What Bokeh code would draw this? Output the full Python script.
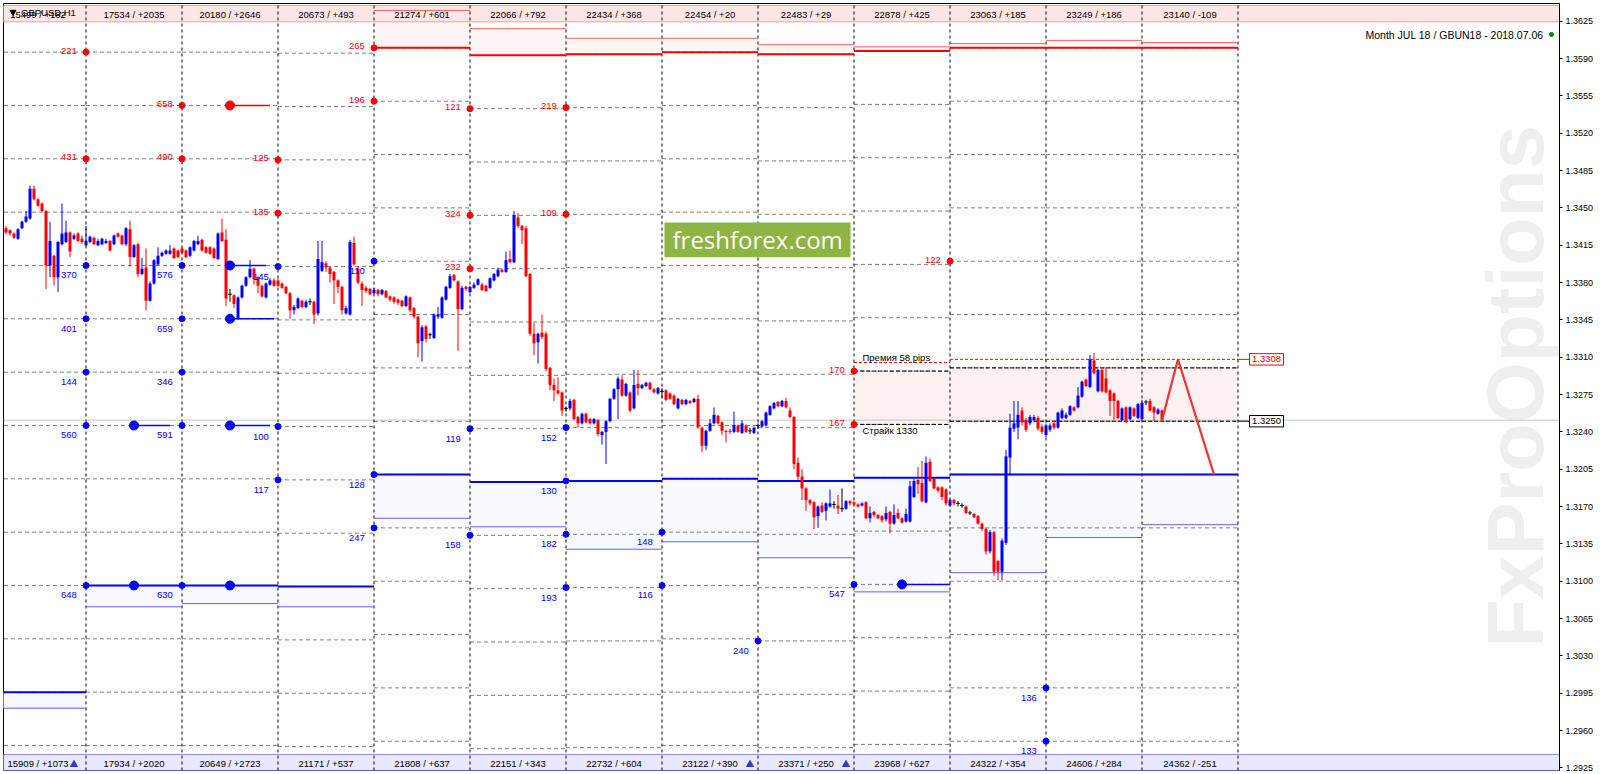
import numpy as np
from bokeh.plotting import figure
from bokeh.models import Range1d, FixedTicker, PrintfTickFormatter, Label, ColumnDataSource
from bokeh.core.properties import value
from bokeh.embed import file_html
from bokeh.resources import INLINE

# ======================= DATA =======================
symbol = "GBPUSD,H1"
contract = "Month JUL 18 / GBUN18 - 2018.07.06"

# hourly candles, prices in pips above 1.3000, first candle at hour -20
first_hour = -20
candle_open = [
    431,429,426,421,431,437,440,468,458,454,447,396,405,385,416,418,427,421,426,421,
    415,418,422,415,416,417,419,416,426,424,416,430,404,416,388,394,363,379,397,405,407,407,412,410,
    412,410,405,410,416,420,413,413,412,402,427,420,369,368,346,366,377,385,393,385,377,366,378,382,
    382,379,376,370,354,356,363,357,362,362,351,391,398,394,390,382,376,351,350,417,393,379,375,374,
    370,373,369,372,367,366,364,363,358,366,356,348,325,339,331,328,348,347,364,375,387,381,355,376,
    371,375,378,378,377,375,382,386,392,390,402,399,441,433,431,388,332,324,333,332,300,284,279,277,
    262,262,270,254,248,257,252,248,251,237,240,250,271,280,289,274,277,262,285,281,283,286,280,276,
    278,279,276,274,262,270,266,269,268,271,244,227,241,248,255,249,241,241,240,246,239,246,241,239,
    246,245,246,256,262,268,264,269,260,254,211,198,187,176,174,161,171,166,170,172,171,168,168,175,
    174,172,171,174,159,165,162,161,158,165,154,164,159,156,156,179,195,192,174,212,196,188,188,186,
    171,176,173,171,170,164,163,161,154,149,128,146,119,109,136,216,243,244,260,251,248,251,253,245,
    237,242,248,244,253,253,256,263,263,273,289,282,307,278,298,290,279,276,269,251,263,252,262,253,
    252,268,269,263,257,260]
candle_close = [
    427,426,422,430,437,442,468,458,452,447,396,419,385,418,426,427,409,424,419,418,
    419,423,416,419,421,419,410,424,423,416,431,404,415,388,393,363,379,401,405,408,410,410,403,404,
    408,404,413,419,419,410,408,407,403,426,419,365,369,360,366,377,385,393,383,377,367,379,382,377,
    377,375,370,354,357,365,357,362,362,350,402,399,394,388,382,376,354,356,418,397,380,373,372,369,
    373,369,373,366,364,362,361,358,367,354,348,323,338,327,331,350,350,366,376,386,382,355,375,374,
    376,378,383,373,372,384,388,392,390,401,399,443,433,429,386,332,323,332,329,299,284,279,276,260,
    262,269,252,248,257,249,248,252,238,240,250,271,280,290,274,285,260,284,281,284,286,280,277,281,
    278,270,271,266,271,266,270,267,271,244,227,241,248,256,248,241,240,240,246,240,248,240,241,244,
    246,250,258,264,267,264,269,263,254,210,198,187,176,173,160,170,165,173,173,172,168,168,175,173,
    172,170,173,159,164,162,159,157,164,154,162,159,155,163,189,194,191,175,211,194,187,185,179,173,
    176,173,173,171,164,164,160,154,149,128,146,109,109,138,217,244,248,256,249,242,254,254,243,240,
    246,246,244,258,260,256,264,260,274,287,283,308,295,298,278,277,269,269,253,262,251,263,255,266,
    267,268,260,258,261,251]
candle_high = [
    433,430,427,431,438,447,471,471,459,455,448,437,406,419,454,438,428,426,427,424,
    433,424,423,421,422,421,420,425,427,425,432,438,416,417,403,412,381,402,413,409,411,415,413,411,
    413,411,414,420,424,421,414,414,413,427,440,430,374,369,367,378,386,401,394,386,378,380,384,384,
    384,380,377,371,359,366,364,364,365,363,419,419,400,395,391,383,377,358,420,423,395,381,377,375,
    375,374,374,373,368,367,365,364,368,367,357,349,340,340,333,351,357,367,377,388,388,382,377,377,
    377,380,384,380,378,385,389,394,393,409,410,447,445,434,433,389,342,333,350,334,301,290,291,278,
    264,271,271,255,258,258,253,253,252,241,251,272,281,292,293,286,278,298,298,285,287,287,281,282,
    281,280,277,275,272,271,271,270,272,275,245,242,252,263,256,250,242,243,259,247,251,247,244,245,
    248,251,259,265,268,269,270,272,263,255,216,205,188,177,175,171,174,174,186,175,181,187,176,176,
    175,173,174,175,170,166,163,162,170,166,172,168,160,168,194,196,207,213,217,215,197,189,189,187,
    177,177,175,173,171,166,164,162,155,150,148,147,120,140,223,257,269,269,263,253,256,256,255,247,
    248,248,250,259,262,258,265,264,282,288,290,312,314,299,300,300,280,277,270,263,264,264,263,267,
    270,270,271,264,262,261]
candle_low = [
    425,424,421,420,430,436,439,457,451,446,374,385,377,371,415,417,404,420,418,416,
    414,417,415,414,415,416,409,415,422,415,414,395,403,385,387,354,362,378,396,404,406,406,402,403,
    407,403,404,409,415,409,407,406,402,401,418,358,362,356,345,365,376,384,378,370,366,365,377,376,
    376,374,369,346,350,355,356,356,359,341,349,390,390,380,360,370,350,350,349,396,378,358,370,368,
    369,367,368,365,362,360,359,357,357,352,346,310,306,324,327,327,346,346,363,374,381,316,354,372,
    370,374,377,372,371,374,381,385,389,389,398,398,431,416,385,330,312,304,327,297,279,269,275,255,
    259,260,251,244,247,248,247,247,236,228,210,249,270,252,273,273,258,261,274,280,282,279,276,275,
    272,269,270,265,261,265,265,266,267,243,221,223,240,247,247,237,230,238,239,239,238,239,238,238,
    243,244,245,255,261,263,263,262,253,205,195,176,166,171,149,150,164,157,169,168,163,165,167,171,
    171,169,170,158,155,160,158,155,156,145,153,158,154,155,155,178,182,174,173,193,186,183,176,171,
    170,171,170,169,163,162,159,153,147,125,126,105,101,101,134,200,240,233,246,240,246,249,241,238,
    235,240,242,243,252,252,255,259,262,272,282,281,294,277,277,276,255,251,252,250,248,251,254,252,
    251,265,259,250,256,250]

# daily option columns (column c spans hours 24c .. 24c+24)
col_ids = [-1, 0, 1, 2, 3, 4, 5, 6, 7, 8, 9, 10, 11]
top_labels = ["15499 / +182", "17534 / +2035", "20180 / +2646", "20673 / +493", "21274 / +601",
              "22066 / +792", "22434 / +368", "22454 / +20", "22483 / +29", "22878 / +425",
              "23063 / +185", "23249 / +186", "23140 / -109"]
bottom_labels = ["15909 / +1073", "17934 / +2020", "20649 / +2723", "21171 / +537", "21808 / +637",
                 "22151 / +343", "22732 / +604", "23122 / +390", "23371 / +250", "23968 / +627",
                 "24322 / +354", "24606 / +284", "24362 / -251"]
basis_pips = [4, 4, 4, 5, 0, 7, 6, 4, 6, 3, 0, 0, 0]
strike_pips = [600, 550, 500, 450, 400, 350, 300, 250, 200, 150, 100, 50, 0, -50]

# call open interest labels (day line, strike, value)
call_day = [0, 1, 0, 1, 2, 2, 3, 3, 4, 4, 4, 5, 5, 9, 8, 8]
call_strike = [600, 550, 500, 500, 500, 450, 600, 550, 550, 450, 400, 550, 450, 400, 300, 250]
call_value = [221, 658, 431, 490, 125, 135, 265, 196, 121, 324, 232, 219, 109, 122, 170, 167]
# put open interest labels
put_day = [0, 0, 0, 0, 0, 1, 1, 1, 1, 1, 2, 2, 2, 3, 3, 3, 4, 4, 5, 5, 5, 5, 6, 6, 7, 8, 10, 10]
put_strike = [400, 350, 300, 250, 100, 400, 350, 300, 250, 100, 400, 250, 200, 400, 200, 150,
              250, 150, 250, 200, 150, 100, 150, 100, 50, 100, 0, -50]
put_value = [370, 401, 144, 560, 648, 576, 659, 346, 591, 630, 145, 100, 117, 110, 128, 247,
             119, 158, 152, 130, 182, 193, 148, 116, 240, 547, 136, 133]

# large intraday markers
call_max_hour = [36]
call_max_strike = [550]
call_max_end = [46]
put_max_hour = [12, 12, 36, 36, 36, 36, 204]
put_max_strike = [250, 100, 400, 350, 250, 100, 100]
put_max_end = [21, 12, 45, 47, 46, 36, 216]

# put zones per column (wall strike, floor price in pips)
put_wall_pips = [0, 100, 100, 100, 200, 200, 200, 200, 200, 200, 200, 200, 200]
put_floor_pips = [-19, 76, 79, 76, 159, 151, 130, 137, 122, 90, 108, 141, 153]
# call zones
call_zone_cols = [3, 4, 5, 6, 7, 8, 9, 10, 11]
call_wall_pips = [600, 600, 600, 600, 600, 600, 600, 600, 600]
call_ceiling_pips = [635, 618, 609, 609, 603, 601, 604, 607, 605]

# strike / premium band
band_cols = [8, 9, 10, 11]
band_low_pips = 250
band_high_pips = 300
premium_pips = 58
strike_text = "Страйк 1330"

forecast_hour = [269, 273, 282]
forecast_price = [1.3251, 1.3308, 1.3200]
last_price = 1.3251

arrow_hours = [-3, 166, 190]
axis_ticks = [round(1.2925 + 0.0035 * k, 4) for k in range(21)]

# ======================= LAYOUT HELPERS =======================
def HX(px):
    return (px - 85.5) / 4.0

def PY(py):
    return 1.3625 - (py - 20.7) / 10667.0

PX_PRICE = 1.0 / 10667.0

def P(pips):
    return 1.3 + np.asarray(pips, dtype=float) * 1e-4

FONT = "Liberation Sans"
basis_of = dict(zip(col_ids, basis_pips))

FL, FR, FT, FB = 3, 1559, 3, 770
x0, x1 = HX(FL), HX(FR)
y0, y1 = PY(FB), PY(FT)

p = figure(frame_width=FR - FL, frame_height=FB - FT, x_range=Range1d(x0, x1), y_range=Range1d(y0, y1),
           x_axis_type=None, y_axis_location="right", toolbar_location=None,
           output_backend="svg", min_border=0, min_border_left=FL, min_border_top=FT,
           min_border_bottom=3)
p.grid.visible = False
p.background_fill_color = "white"
p.border_fill_color = "white"
p.outline_line_color = "black"

ax = p.yaxis[0]
ax.ticker = FixedTicker(ticks=axis_ticks, minor_ticks=[])
ax.formatter = PrintfTickFormatter(format="%.4f")
ax.major_label_text_font = FONT
ax.major_label_text_font_size = "9px"
ax.major_label_text_color = "black"
ax.major_tick_out = 3
ax.major_tick_in = 0
ax.minor_tick_out = 0
ax.minor_tick_in = 0
ax.major_label_standoff = 3
ax.axis_line_color = "black"

# watermark
p.add_layout(Label(x=HX(1515), y=PY(647), text="FxProOptions", angle=np.pi / 2,
                   text_font=FONT, text_font_style="bold", text_font_size="79px",
                   text_color="#EFEFEF", text_align="left", text_baseline="middle",
                   level="underlay"))

# zone fills
cz_left = [24 * c for c in call_zone_cols]
cz_right = [24 * c + 24 for c in call_zone_cols]
cz_wall = [float(P(w - basis_of[c])) for w, c in zip(call_wall_pips, call_zone_cols)]
cz_ceil = [float(P(v)) for v in call_ceiling_pips]
p.quad(left=cz_left, right=cz_right, top=cz_ceil, bottom=cz_wall, fill_color="#FFF5F5", line_color=None)

col_left = [24 * c for c in col_ids]
col_right = [24 * c + 24 for c in col_ids]
pz_wall = [float(P(w - b)) for w, b in zip(put_wall_pips, basis_pips)]
pz_floor = [float(P(v)) for v in put_floor_pips]
p.quad(left=col_left, right=col_right, top=pz_wall, bottom=pz_floor, fill_color="#F8F8FF", line_color=None)

bd_left = [24 * c for c in band_cols]
bd_right = [24 * c + 24 for c in band_cols]
bd_low = [float(P(band_low_pips - basis_of[c])) for c in band_cols]
bd_high = [float(P(band_high_pips - basis_of[c])) for c in band_cols]
bd_prem = [float(P(band_low_pips - basis_of[c] + premium_pips)) for c in band_cols]
p.quad(left=bd_left, right=bd_right, top=bd_high, bottom=bd_low, fill_color="#FDF1F1", line_color=None)

# strips
p.quad(left=[x0], right=[x1], top=[PY(5)], bottom=[PY(21.3)], fill_color="#FFE6E6", line_color="#FF9A9A")
p.quad(left=[x0], right=[x1], top=[PY(754)], bottom=[PY(770)], fill_color="#E8E8FF", line_color="#8C8CFF")

# strike levels per column
lx0, lx1, ly = [], [], []
for c, b in zip(col_ids, basis_pips):
    for s in strike_pips:
        lx0.append(24 * c)
        lx1.append(24 * c + 24)
        ly.append(float(P(s - b)))
p.segment(x0=lx0, y0=ly, x1=lx1, y1=ly, line_color="#808080", line_width=1, line_dash="4 3")

# current price line
p.segment(x0=[x0], y0=[last_price], x1=[x1], y1=[last_price], line_color="#C8C8C8", line_width=1)

# day separators
day_lines = [24 * (c + 1) for c in col_ids]
p.segment(x0=day_lines, y0=[y0] * len(day_lines), x1=day_lines, y1=[y1] * len(day_lines),
          line_color="black", line_width=1, line_dash="3 3")

# zone lines
p.segment(x0=cz_left, y0=cz_ceil, x1=cz_right, y1=cz_ceil, line_color="#FF6060", line_width=1)
p.segment(x0=cz_left, y0=cz_wall, x1=cz_right, y1=cz_wall, line_color="#FF0000", line_width=2)
p.segment(x0=col_left, y0=pz_floor, x1=col_right, y1=pz_floor, line_color="#6060FF", line_width=1)
p.segment(x0=col_left, y0=pz_wall, x1=col_right, y1=pz_wall, line_color="#0000FF", line_width=2)

# strike band lines
p.segment(x0=bd_left, y0=bd_low, x1=bd_right, y1=bd_low, line_color="black", line_width=1, line_dash="4 2")
p.segment(x0=bd_left, y0=bd_high, x1=bd_right, y1=bd_high, line_color="black", line_width=1, line_dash="4 2")
p.segment(x0=bd_left, y0=bd_prem, x1=bd_right, y1=bd_prem, line_color="#FF0000", line_width=1, line_dash="3 2")

# large markers
cm_y = [float(P(s - basis_of[int(np.floor(h / 24))])) for h, s in zip(call_max_hour, call_max_strike)]
pm_y = [float(P(s - basis_of[int(np.floor(h / 24))])) for h, s in zip(put_max_hour, put_max_strike)]
p.segment(x0=call_max_hour, y0=cm_y, x1=call_max_end, y1=cm_y, line_color="#FF0000", line_width=1.5)
p.segment(x0=put_max_hour, y0=pm_y, x1=put_max_end, y1=pm_y, line_color="#0000FF", line_width=1.5)

# candles
o = np.array(candle_open, dtype=float)
c_ = np.array(candle_close, dtype=float)
hi = np.array(candle_high, dtype=float)
lo = np.array(candle_low, dtype=float)
hours = np.arange(first_hour, first_hour + len(o))
colors = ["#0000FF" if cc > oo else ("#FF0000" if cc < oo else "#000000") for oo, cc in zip(o, c_)]
src = ColumnDataSource(dict(x=hours, hi=P(hi), lo=P(lo), top=P(np.maximum(o, c_)),
                            bot=P(np.minimum(o, c_)), color=colors))
p.segment(x0="x", y0="lo", x1="x", y1="hi", line_color="color", line_width=1, source=src)
p.vbar(x="x", width=0.75, top="top", bottom="bot", fill_color="color", line_color=None, source=src)
dj = o == c_
p.segment(x0=hours[dj] - 0.45, y0=P(o[dj]), x1=hours[dj] + 0.45, y1=P(o[dj]), line_color="black", line_width=1)

# forecast
p.line(forecast_hour, forecast_price, line_color="#F03434", line_width=2.2)

# option dots and labels
cx = [24 * d for d in call_day]
cy = [float(P(s - basis_of[d])) for d, s in zip(call_day, call_strike)]
px_ = [24 * d for d in put_day]
pyv = [float(P(s - basis_of[d])) for d, s in zip(put_day, put_strike)]
p.scatter(cx, cy, size=6, color="#FF0000")
p.scatter(px_, pyv, size=6, color="#0000FF")
p.scatter(call_max_hour, cm_y, size=9, color="#FF0000")
p.scatter(put_max_hour, pm_y, size=9, color="#0000FF")
p.text(x=[v - 2.3 for v in cx], y=[v + 1.4 * PX_PRICE for v in cy], text=[str(v) for v in call_value],
       text_color="#FF0000", text_font=value(FONT), text_font_size=value("9.5px"),
       text_align="right", text_baseline="alphabetic")
p.text(x=[v - 2.3 for v in px_], y=[v - 10 * PX_PRICE for v in pyv], text=[str(v) for v in put_value],
       text_color="#0000FF", text_font=value(FONT), text_font_size=value("9.5px"),
       text_align="right", text_baseline="alphabetic")

# band texts
p.text(x=[HX(862)], y=[PY(357)], text=[f"Премия {premium_pips} pips"], text_color="black",
       text_font=value(FONT), text_font_size=value("9.5px"), text_align="left", text_baseline="middle")
p.text(x=[HX(862)], y=[PY(429.5)], text=[strike_text], text_color="black",
       text_font=value(FONT), text_font_size=value("9.5px"), text_align="left", text_baseline="middle")

# price boxes right of the columns
box_prices = [bd_prem[-1], bd_low[-1]]
box_colors = ["#FF0000", "black"]
end_hour = day_lines[-1]
p.segment(x0=[end_hour] * 2, y0=box_prices, x1=[HX(1249)] * 2, y1=box_prices, line_color=box_colors, line_width=1)
p.quad(left=[HX(1249)] * 2, right=[HX(1283)] * 2, top=[v + 5.7 * PX_PRICE for v in box_prices],
       bottom=[v - 5.7 * PX_PRICE for v in box_prices], fill_color="white", line_color=box_colors)
p.text(x=[HX(1266)] * 2, y=box_prices, text=[f"{v:.4f}" for v in box_prices], text_color=box_colors,
       text_font=value(FONT), text_font_size=value("9.5px"), text_align="center", text_baseline="middle")

# strip labels
centers = [24 * c + 12 for c in col_ids]
p.text(x=centers, y=[PY(13.5)] * len(centers), text=top_labels, text_color="black", text_font=value(FONT),
       text_font_size=value("9.5px"), text_align="center", text_baseline="middle")
p.text(x=centers, y=[PY(762.5)] * len(centers), text=bottom_labels, text_color="black", text_font=value(FONT),
       text_font_size=value("9.5px"), text_align="center", text_baseline="middle")
p.scatter(arrow_hours, [PY(764)] * len(arrow_hours), marker="triangle", size=7, color="#3434CC")

# symbol and contract
p.scatter([HX(12.5)], [PY(11.5)], marker="inverted_triangle", size=6, color="black")
p.add_layout(Label(x=HX(20.5), y=PY(11.5), text=symbol, text_font=FONT, text_font_size="9.5px",
                   text_color="black", text_align="left", text_baseline="middle"))
p.add_layout(Label(x=HX(1543), y=PY(34), text=contract, text_font=FONT, text_font_size="10.5px",
                   text_color="black", text_align="right", text_baseline="middle"))
p.scatter([HX(1551)], [PY(34)], size=4, color="#008000")

# freshforex badge
p.quad(left=[HX(664)], right=[HX(850)], top=[PY(222)], bottom=[PY(256.7)], fill_color="#8EB444", line_color=None)
p.add_layout(Label(x=HX(672), y=PY(239), text="freshforex.com", text_font="Open Sans",
                   text_font_size="24px", text_color="white", text_align="left", text_baseline="middle"))

# current price tag on the axis
p.add_layout(Label(x=HX(1561), y=last_price, text=f"{last_price:.4f}", text_font=FONT,
                   text_font_size="9px", text_color="white", background_fill_color="black",
                   text_align="left", text_baseline="middle"))

open("out.html", "w").write(file_html(p, INLINE))
